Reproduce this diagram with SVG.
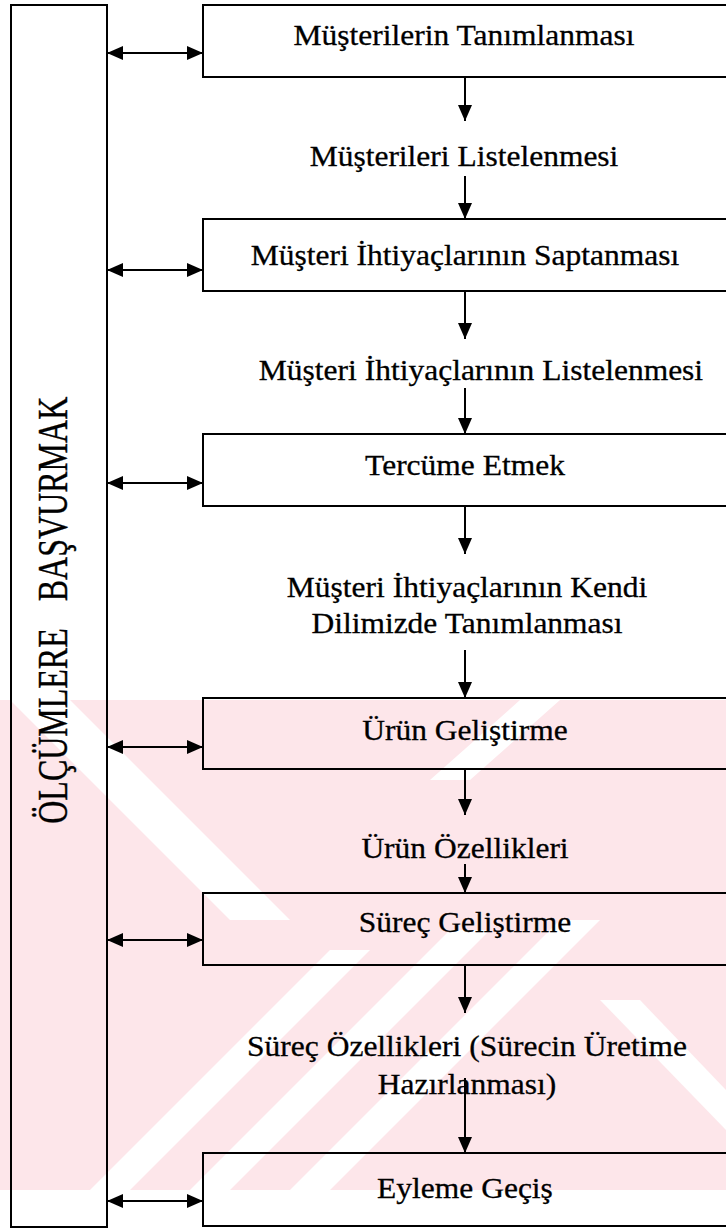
<svg xmlns="http://www.w3.org/2000/svg" width="726" height="1230" viewBox="0 0 726 1230">
  <style>
    .box { fill: none; stroke: #000; stroke-width: 2; }
    .lbl { font-family: "Liberation Serif", "Times New Roman", serif; font-size: 30px; fill: #000; stroke: #000; stroke-width: 0.3; text-anchor: middle; }
    .side { font-family: "Liberation Serif", "Times New Roman", serif; font-size: 32px; fill: #000; stroke: #000; stroke-width: 0.3; text-anchor: middle; }
    .edge { fill: none; stroke: #000; stroke-width: 2; }
    .wm { fill: #fde6ea; }
  </style>
  <defs>
    <marker id="head" viewBox="0 0 16 14" refX="16" refY="7" markerWidth="16" markerHeight="14" markerUnits="userSpaceOnUse" orient="auto-start-reverse">
      <path d="M0,0 L16,7 L0,14 z" fill="#000"/>
    </marker>
    <clipPath id="wmclip">
      <rect x="0" y="700" width="726" height="490"/>
    </clipPath>
  </defs>

  <rect width="726" height="1230" fill="#fff"/>

  <!-- faint background mark -->
  <g id="watermark" clip-path="url(#wmclip)">
    <rect class="wm" x="0" y="700" width="726" height="490"/>
    <g fill="#fff">
      <polygon points="10,700 70,700 290,920 230,920"/>
      <polygon points="230,1190 190,1190 450,930 490,930"/>
      <polygon points="330,1190 290,1190 560,920 600,920"/>
      <polygon points="130,1190 90,1190 330,950 370,950"/>
      <polygon points="430,780 470,780 560,700 520,700"/>
      <polygon points="600,1000 640,1000 726,1090 726,1130"/>
    </g>
  </g>

  <!-- side column -->
  <g id="side">
    <rect class="box" x="11" y="5" width="96" height="1222"/>
    <text class="side" transform="translate(53,499) rotate(-90) scale(1,1.3)" x="0" y="11">BAŞVURMAK</text>
    <text class="side" transform="translate(53,726) rotate(-90) scale(1,1.3)" x="0" y="11">ÖLÇÜMLERE</text>
  </g>

  <!-- process steps -->
  <g id="n1">
    <rect class="box" x="203" y="5" width="540" height="72"/>
    <text class="lbl" transform="translate(464,45) scale(1.05,1)">Müşterilerin Tanımlanması</text>
  </g>
  <g id="t1">
    <text class="lbl" transform="translate(464,166) scale(1.05,1)">Müşterileri Listelenmesi</text>
  </g>
  <g id="n2">
    <rect class="box" x="203" y="219" width="540" height="72"/>
    <text class="lbl" transform="translate(465,265) scale(1.05,1)">Müşteri İhtiyaçlarının Saptanması</text>
  </g>
  <g id="t2">
    <text class="lbl" transform="translate(481,380) scale(1.05,1)">Müşteri İhtiyaçlarının Listelenmesi</text>
  </g>
  <g id="n3">
    <rect class="box" x="203" y="434" width="540" height="72"/>
    <text class="lbl" transform="translate(465,475) scale(1.05,1)">Tercüme Etmek</text>
  </g>
  <g id="t3">
    <text class="lbl" transform="translate(467,597) scale(1.05,1)">Müşteri İhtiyaçlarının Kendi</text>
    <text class="lbl" transform="translate(467,633) scale(1.05,1)">Dilimizde Tanımlanması</text>
  </g>
  <g id="n4">
    <rect class="box" x="203" y="698" width="540" height="71"/>
    <text class="lbl" transform="translate(465,740) scale(1.05,1)">Ürün Geliştirme</text>
  </g>
  <g id="t4">
    <text class="lbl" transform="translate(465,858) scale(1.05,1)">Ürün Özellikleri</text>
  </g>
  <g id="n5">
    <rect class="box" x="203" y="893" width="540" height="72"/>
    <text class="lbl" transform="translate(465,932) scale(1.05,1)">Süreç Geliştirme</text>
  </g>
  <g id="t5">
    <text class="lbl" transform="translate(467,1056) scale(1.05,1)">Süreç Özellikleri (Sürecin Üretime</text>
    <text class="lbl" transform="translate(467,1094) scale(1.05,1)">Hazırlanması)</text>
  </g>
  <g id="n6">
    <rect class="box" x="203" y="1153" width="540" height="73"/>
    <text class="lbl" transform="translate(465,1198) scale(1.05,1)">Eyleme Geçiş</text>
  </g>

  <!-- connectors -->
  <g id="connectors">
    <line class="edge" x1="465" y1="77" x2="465" y2="121" marker-end="url(#head)"/>
    <line class="edge" x1="465" y1="176" x2="465" y2="219" marker-end="url(#head)"/>
    <line class="edge" x1="465" y1="291" x2="465" y2="339" marker-end="url(#head)"/>
    <line class="edge" x1="465" y1="388" x2="465" y2="434" marker-end="url(#head)"/>
    <line class="edge" x1="465" y1="506" x2="465" y2="554" marker-end="url(#head)"/>
    <line class="edge" x1="465" y1="650" x2="465" y2="698" marker-end="url(#head)"/>
    <line class="edge" x1="465" y1="769" x2="465" y2="815" marker-end="url(#head)"/>
    <line class="edge" x1="465" y1="864" x2="465" y2="893" marker-end="url(#head)"/>
    <line class="edge" x1="465" y1="965" x2="465" y2="1013" marker-end="url(#head)"/>
    <line class="edge" x1="465" y1="1078" x2="465" y2="1153" marker-end="url(#head)"/>

    <line class="edge" x1="107" y1="53" x2="203" y2="53" marker-start="url(#head)" marker-end="url(#head)"/>
    <line class="edge" x1="107" y1="270" x2="203" y2="270" marker-start="url(#head)" marker-end="url(#head)"/>
    <line class="edge" x1="107" y1="483" x2="203" y2="483" marker-start="url(#head)" marker-end="url(#head)"/>
    <line class="edge" x1="107" y1="747" x2="203" y2="747" marker-start="url(#head)" marker-end="url(#head)"/>
    <line class="edge" x1="107" y1="940" x2="203" y2="940" marker-start="url(#head)" marker-end="url(#head)"/>
    <line class="edge" x1="107" y1="1201" x2="203" y2="1201" marker-start="url(#head)" marker-end="url(#head)"/>
  </g>
</svg>
